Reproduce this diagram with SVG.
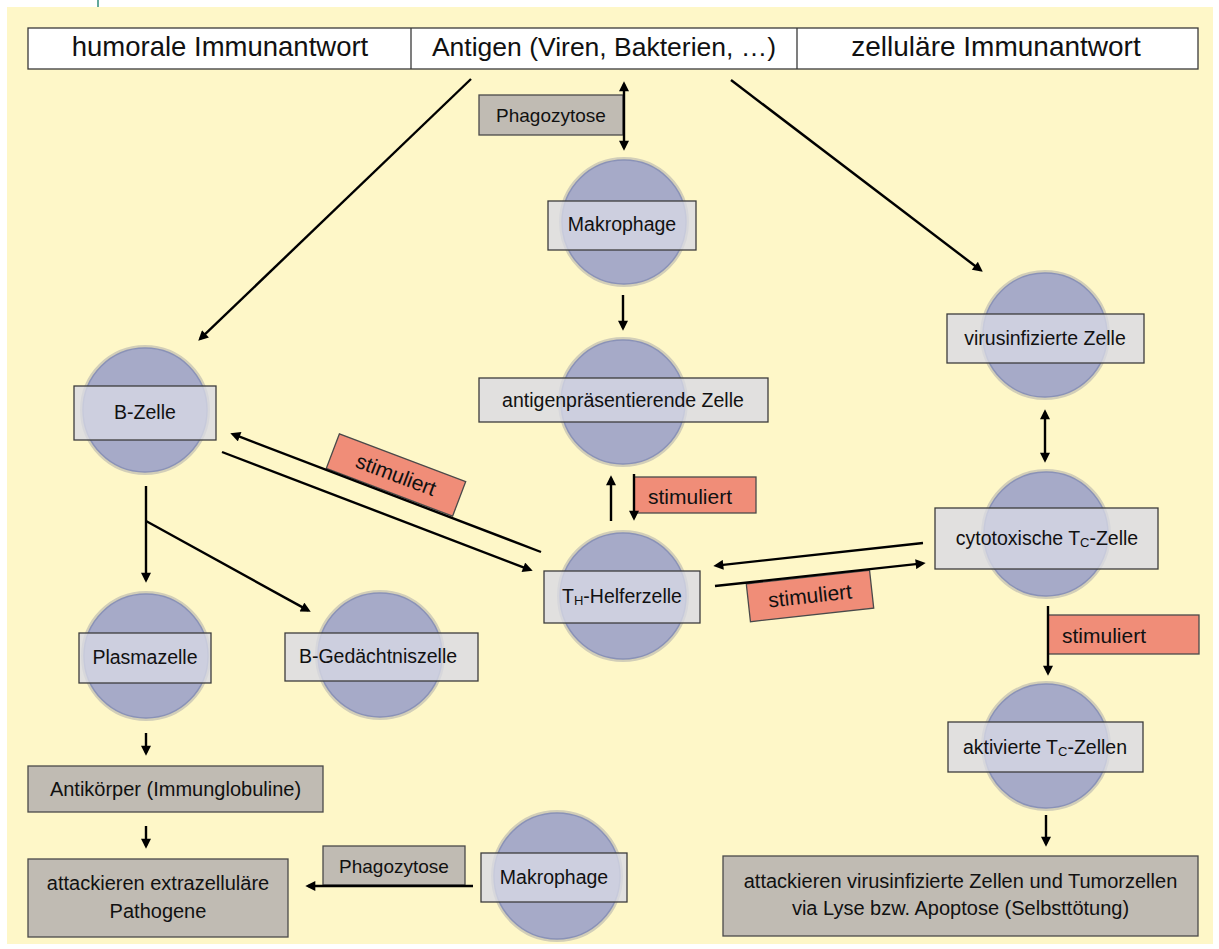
<svg xmlns="http://www.w3.org/2000/svg" width="1219" height="949" viewBox="0 0 1219 949">
<style>
.bg{fill:#FEF7C8}
.hdr{fill:#ffffff;stroke:#3a3a3a;stroke-width:1.3}
.ring{fill:none;stroke:#D2CEB8;stroke-width:4}
.circ{fill:#A6AAC8;stroke:#8A92B7;stroke-width:1.5}
.lbl{fill:#D9DAE6;fill-opacity:0.78;stroke:#3c3c3c;stroke-width:1.3}
.gbox{fill:#C0BBB3;stroke:#4a4a4a;stroke-width:1.3}
.stim{fill:#F08D78;stroke:#4a4a4a;stroke-width:1.3}
.t{font-family:'Liberation Sans',Arial,sans-serif;font-size:19.5px;fill:#111}
.hd{font-size:27.5px}
.s{font-size:21px}
.m{text-anchor:middle}
.sub{font-size:13px}
.conn line{stroke:#000;stroke-width:2.4;fill:none}
.end{marker-end:url(#ah)}
.both{marker-start:url(#ah);marker-end:url(#ah)}
</style>
<defs>
<marker id="ah" viewBox="0 0 10 10" markerWidth="11" markerHeight="10" refX="7" refY="5" orient="auto-start-reverse" markerUnits="userSpaceOnUse">
<path d="M0,0 L10,5 L0,10 z" fill="#000"/>
</marker>
</defs>

<line x1="98" y1="0" x2="98" y2="7" stroke="#2E8B7A" stroke-width="1.5"/>
<rect class="bg" x="7" y="7" width="1206" height="937"/>

<g id="header">
<rect class="hdr" x="28" y="28" width="1170" height="41"/>
<line x1="411" y1="28" x2="411" y2="69" stroke="#3a3a3a" stroke-width="1.3"/>
<line x1="797" y1="28" x2="797" y2="69" stroke="#3a3a3a" stroke-width="1.3"/>
<text class="t hd m" x="220" y="56">humorale Immunantwort</text>
<text class="t hd m" x="604" y="56" style="font-size:26.5px">Antigen (Viren, Bakterien, …)</text>
<text class="t hd m" x="996" y="56" style="font-size:28px">zelluläre Immunantwort</text>
</g>

<g id="phagozytose-top">
<rect class="gbox" x="479" y="95" width="144" height="40"/>
<text class="t m" x="551" y="122" style="font-size:19px">Phagozytose</text>
</g>

<g id="makrophage-top">
<circle class="ring" cx="624" cy="222" r="63"/>
<circle class="circ" cx="624" cy="222" r="62"/>
<rect class="lbl" x="548" y="201" width="148" height="49"/>
<text class="t m" x="622" y="231">Makrophage</text>
</g>

<g id="apc">
<circle class="ring" cx="623" cy="402" r="63"/>
<circle class="circ" cx="623" cy="402" r="62"/>
<rect class="lbl" x="479" y="378" width="289" height="44"/>
<text class="t m" x="623" y="406.5">antigenpräsentierende Zelle</text>
</g>

<g id="b-zelle">
<circle class="ring" cx="145" cy="410" r="63"/>
<circle class="circ" cx="145" cy="410" r="62"/>
<rect class="lbl" x="74" y="386" width="142" height="54"/>
<text class="t m" x="145" y="419">B-Zelle</text>
</g>

<g id="th-helferzelle">
<circle class="ring" cx="623" cy="596" r="64"/>
<circle class="circ" cx="623" cy="596" r="63"/>
<rect class="lbl" x="544" y="571" width="156" height="52"/>
<text class="t m" x="622" y="603">T<tspan class="sub" dy="2">H</tspan><tspan dy="-2">-Helferzelle</tspan></text>
</g>

<g id="virusinfizierte-zelle">
<circle class="ring" cx="1045" cy="335" r="63"/>
<circle class="circ" cx="1045" cy="335" r="62"/>
<rect class="lbl" x="947" y="314" width="197" height="49"/>
<text class="t m" x="1045" y="345">virusinfizierte Zelle</text>
</g>

<g id="cytotoxische-tc-zelle">
<circle class="ring" cx="1046" cy="534" r="63"/>
<circle class="circ" cx="1046" cy="534" r="62"/>
<rect class="lbl" x="935" y="508" width="223" height="61"/>
<text class="t m" x="1047" y="545">cytotoxische T<tspan class="sub" dy="2">C</tspan><tspan dy="-2">-Zelle</tspan></text>
</g>

<g id="aktivierte-tc-zellen">
<circle class="ring" cx="1046" cy="746" r="63"/>
<circle class="circ" cx="1046" cy="746" r="62"/>
<rect class="lbl" x="948" y="722" width="195" height="50"/>
<text class="t m" x="1045" y="754">aktivierte T<tspan class="sub" dy="2">C</tspan><tspan dy="-2">-Zellen</tspan></text>
</g>

<g id="plasmazelle">
<circle class="ring" cx="146" cy="656" r="63"/>
<circle class="circ" cx="146" cy="656" r="62"/>
<rect class="lbl" x="79" y="633" width="132" height="50"/>
<text class="t m" x="145" y="664">Plasmazelle</text>
</g>

<g id="b-gedaechtniszelle">
<circle class="ring" cx="380" cy="655" r="63"/>
<circle class="circ" cx="380" cy="655" r="62"/>
<rect class="lbl" x="285" y="633" width="193" height="48"/>
<text class="t m" x="378" y="663">B-Gedächtniszelle</text>
</g>

<g id="antikoerper">
<rect class="gbox" x="28" y="766" width="295" height="46"/>
<text class="t m" x="175.5" y="796" style="font-size:20px">Antikörper (Immunglobuline)</text>
</g>

<g id="attackieren-extrazellulaer">
<rect class="gbox" x="28" y="859" width="260" height="78"/>
<text class="t m" x="158" y="890" style="font-size:20px">attackieren extrazelluläre</text>
<text class="t m" x="158" y="918" style="font-size:20px">Pathogene</text>
</g>

<g id="phagozytose-bottom">
<rect class="gbox" x="323" y="846" width="142" height="39"/>
<text class="t m" x="394" y="873" style="font-size:19px">Phagozytose</text>
</g>

<g id="makrophage-bottom">
<circle class="ring" cx="557" cy="876" r="64"/>
<circle class="circ" cx="557" cy="876" r="63"/>
<rect class="lbl" x="481" y="853" width="146" height="49"/>
<text class="t m" x="554" y="884">Makrophage</text>
</g>

<g id="attackieren-virusinfiziert">
<rect class="gbox" x="723" y="856" width="475" height="80"/>
<text class="t m" x="960.5" y="888" style="font-size:20px">attackieren virusinfizierte Zellen und Tumorzellen</text>
<text class="t m" x="960.5" y="915" style="font-size:20px">via Lyse bzw. Apoptose (Selbsttötung)</text>
</g>

<g id="stimuliert-b">
<g transform="translate(396,475) rotate(20.7)">
<rect class="stim" x="-67.5" y="-18.5" width="135" height="37"/>
<text class="t s m" x="0" y="7">stimuliert</text>
</g>
</g>

<g id="stimuliert-apc">
<rect class="stim" x="634" y="477" width="122" height="36"/>
<text class="t s" x="648" y="504">stimuliert</text>
</g>

<g id="stimuliert-tc">
<g transform="translate(810,596) rotate(-6.3)">
<rect class="stim" x="-62" y="-19" width="124" height="38"/>
<text class="t s m" x="0" y="7">stimuliert</text>
</g>
</g>

<g id="stimuliert-akt">
<rect class="stim" x="1048" y="615" width="151" height="39"/>
<text class="t s" x="1062" y="643">stimuliert</text>
</g>

<g id="connectors" class="conn">
<line class="end" x1="471" y1="79" x2="200.4" y2="338.7"/>
<line class="end" x1="731" y1="80" x2="980.4" y2="270"/>
<line class="both" x1="624" y1="84.3" x2="624" y2="147.7"/>
<line class="end" x1="623" y1="295" x2="623" y2="327.7"/>
<line class="end" x1="611" y1="521" x2="611" y2="478.3"/>
<line class="end" x1="634" y1="474" x2="634" y2="517.7"/>
<line class="end" x1="541" y1="552" x2="233.1" y2="434.2"/>
<line class="end" x1="222" y1="452" x2="529.9" y2="569.8"/>
<line class="end" x1="923" y1="543" x2="716.3" y2="565.6"/>
<line class="end" x1="715" y1="586" x2="922.7" y2="563.4"/>
<line class="both" x1="1045" y1="412.3" x2="1045" y2="459.7"/>
<line class="end" x1="1048" y1="606" x2="1048" y2="672.7"/>
<line class="end" x1="1046" y1="815" x2="1046" y2="843.7"/>
<line class="end" x1="146" y1="486" x2="146" y2="579.7"/>
<line class="end" x1="146" y1="521" x2="308.1" y2="610.4"/>
<line class="end" x1="146" y1="733" x2="146" y2="752.7"/>
<line class="end" x1="146" y1="826" x2="146" y2="845.7"/>
<line class="end" x1="473" y1="886" x2="308.3" y2="886"/>
</g>
</svg>
